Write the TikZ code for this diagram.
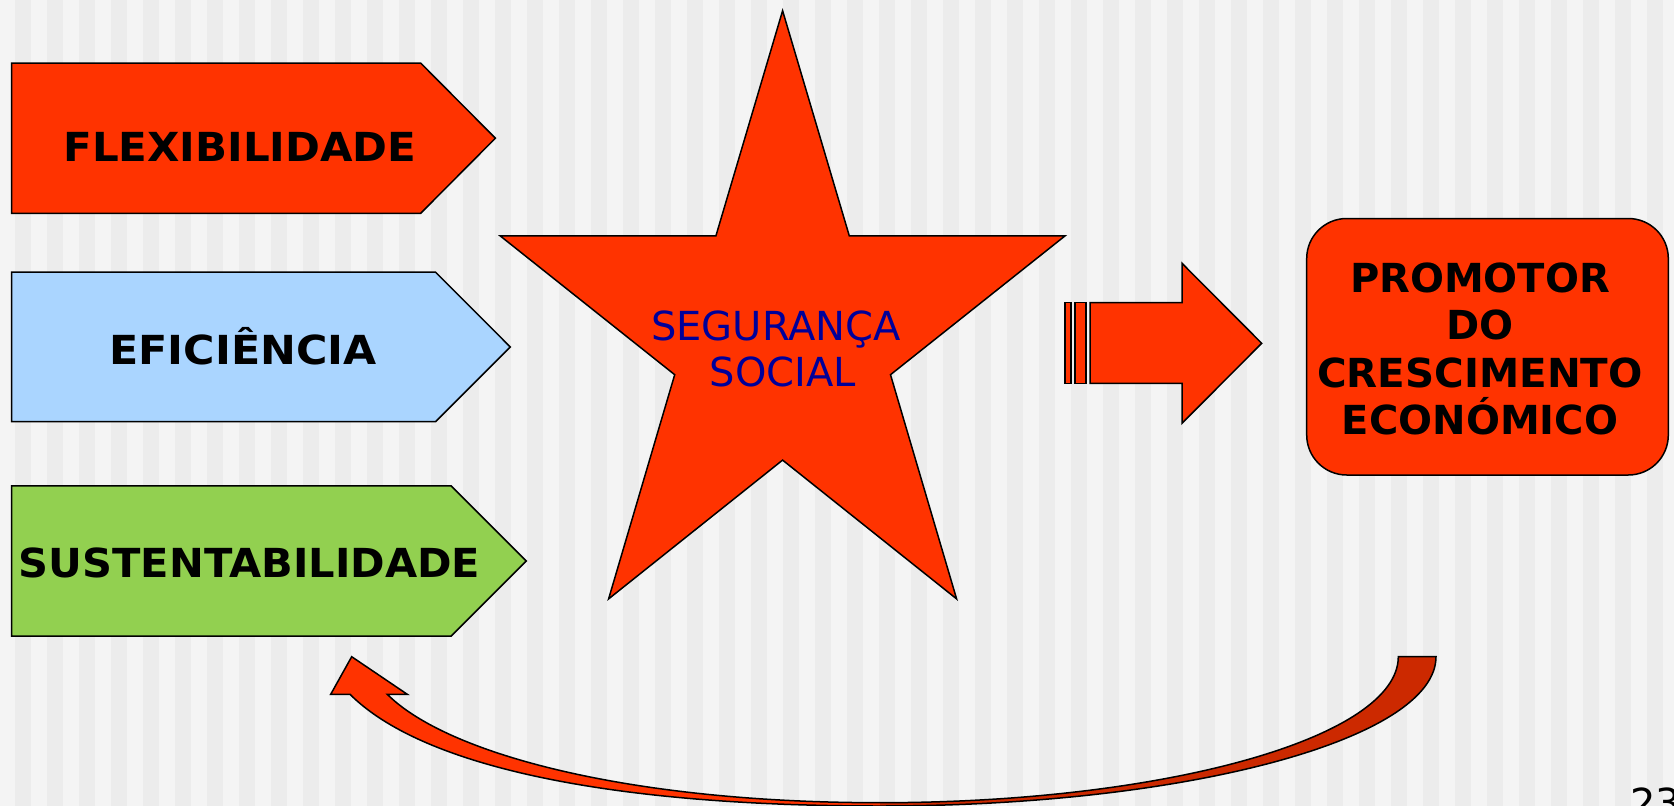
\documentclass[tikz,border=0pt]{standalone}
\usepackage{fontspec}
\setmainfont{DejaVu Sans}
\definecolor{bgA}{HTML}{F4F4F4}
\definecolor{bgB}{HTML}{ECECEC}
\definecolor{hotred}{HTML}{FF3300}
\definecolor{deepred}{HTML}{CC2900}
\definecolor{skyblue}{HTML}{AAD5FF}
\definecolor{leafgreen}{HTML}{92D050}
\definecolor{navytext}{HTML}{000099}
\newcommand\curvedarrowpath{(1398.3,656.7) -- (1436,656.7)
  .. controls (1436,739.2) and (1187.1,806) .. (880,806)
  .. controls (600,806) and (420,764.3) .. (350,694.3)
  -- (330.7,694.3) -- (351.7,656.7) -- (407.3,694.3) -- (387.3,694.3)
  .. controls (447.3,754.3) and (630,802.7) .. (880,802.7)
  .. controls (1166.3,802.7) and (1398.3,737.3) .. (1398.3,656.7) -- cycle}
\tikzset{
  shapeline/.style={draw=black, line width=1.5pt, line join=miter},
  boldlabel/.style={font=\fontsize{40}{48}\selectfont\bfseries, inner sep=0pt, anchor=base},
  starlabel/.style={font=\fontsize{40}{48}\selectfont, text=navytext, inner sep=0pt, anchor=base},
}
\begin{document}
\begin{tikzpicture}[x=1pt, y=-1pt]
\useasboundingbox (0,0) rectangle (1674,806);
\clip (0,0) rectangle (1674,806);
% background stripes
\fill[bgA] (0,0) rectangle (1674,806);
\foreach \k in {0,...,51} \fill[bgB] ({15+32*\k},0) rectangle ({31+32*\k},806);

% pentagon arrows
\filldraw[shapeline, fill=hotred] (11.7,63) -- (420.6,63) -- (495.4,138.2) -- (420.6,213.4) -- (11.7,213.4) -- cycle;
\filldraw[shapeline, fill=skyblue] (11.7,272.2) -- (435.6,272.2) -- (510.3,347) -- (435.6,421.7) -- (11.7,421.7) -- cycle;
\filldraw[shapeline, fill=leafgreen] (11.7,485.8) -- (451,485.8) -- (526.2,561) -- (451,636.2) -- (11.7,636.2) -- cycle;
\node[boldlabel] (flex) at (240,161.7) {\scalebox{1.05}[1]{FLEXIBILIDADE}};
\node[boldlabel] (efic) at (243,364) {\scalebox{1.07}[1]{EFICIÊNCIA}};
\node[boldlabel] (sust) at (249.6,577.3) {\scalebox{1.04}[1]{SUSTENTABILIDADE}};

% star
\filldraw[shapeline, fill=hotred] (782.6,10.7) -- (849.3,235.9) -- (1065,235.9) -- (890.5,374.7)
  -- (956.6,598.9) -- (782.6,460.1) -- (608.6,598.9) -- (674.7,374.7) -- (500.2,235.9)
  -- (715.9,235.9) -- cycle;
\node[starlabel] (seg) at (776,340) {SEGURANÇA};
\node[starlabel] (soc) at (783,386.7) {SOCIAL};

% striped block arrow
\filldraw[shapeline, line width=1.2pt, fill=hotred] (1065,302.7) rectangle (1071,383.3);
\filldraw[shapeline, line width=1.2pt, fill=hotred] (1075,302.7) rectangle (1086,383.3);
\filldraw[shapeline, fill=hotred] (1090,302.7) -- (1182,302.7) -- (1182,263.3) -- (1261.7,343.3)
  -- (1182,423.3) -- (1182,383.3) -- (1090,383.3) -- cycle;

% rounded box
\filldraw[shapeline, fill=hotred, rounded corners=40pt] (1306.7,218.5) rectangle (1668.3,475);
\node[boldlabel] (p1) at (1480,292) {PROMOTOR};
\node[boldlabel] (p2) at (1480,339.5) {DO};
\node[boldlabel] (p3) at (1480,387) {\scalebox{1.01}[1]{CRESCIMENTO}};
\node[boldlabel] (p4) at (1480,434.5) {ECONÓMICO};

% curved arrow
\begin{scope}
  \clip (0,0) rectangle (880,806);
  \fill[hotred] \curvedarrowpath;
\end{scope}
\begin{scope}
  \clip (880,0) rectangle (1674,806);
  \fill[deepred] \curvedarrowpath;
\end{scope}
\draw[shapeline] \curvedarrowpath;

% page number (cut off at the page edge, as in the reference)
\node[font=\fontsize{40}{48}\selectfont, inner sep=0pt, anchor=base west] (pg) at (1630,817) {23};
\end{tikzpicture}
\end{document}
